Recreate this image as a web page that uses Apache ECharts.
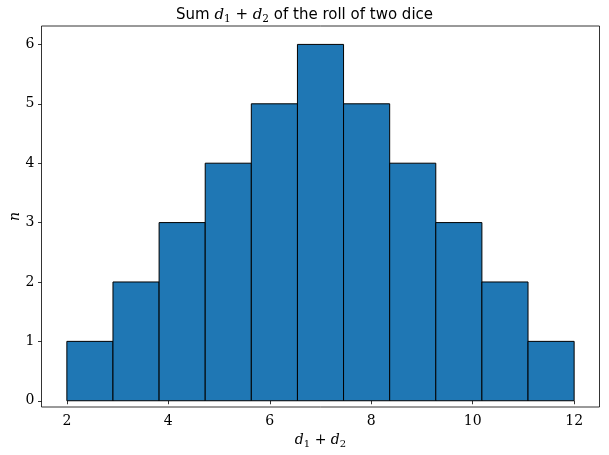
<!DOCTYPE html>
<html>
<head>
<meta charset="utf-8">
<script src="https://cdn.jsdelivr.net/npm/echarts@6/dist/echarts.min.js"></script>
<style>html,body{margin:0;padding:0;background:#fff}#c{width:609px;height:455px}</style>
</head>
<body>
<div id="c"></div>
<script>
// Data
const binLow = 2;
const binHigh = 12;
const counts = [1, 2, 3, 4, 5, 6, 5, 4, 3, 2, 1];
const xTicks = [2, 4, 6, 8, 10, 12];
const yTicks = [0, 1, 2, 3, 4, 5, 6];

const nBins = counts.length;
const binW = (binHigh - binLow) / nBins;
const bars = counts.map((c, i) => [binLow + i * binW, binLow + (i + 1) * binW, c]);

const chart = echarts.init(document.getElementById('c'), null, {renderer: 'canvas'});
const serif = 'DejaVu Serif';
chart.setOption({
  animation: false,
  backgroundColor: '#fff',
  title: {
    text: '{s|Sum }{m|d}{sub|1}{s| + }{m|d}{sub|2}{s| of the roll of two dice}',
    left: 'center',
    top: 1,
    textStyle: {
      fontWeight: 'normal',
      rich: {
        s: {fontFamily: 'DejaVu Sans', fontWeight: 'normal', fontSize: 15, color: '#000'},
        m: {fontFamily: serif, fontStyle: 'italic', fontWeight: 'normal', fontSize: 15, color: '#000'},
        sub: {fontFamily: serif, fontWeight: 'normal', fontSize: 10.5, color: '#000', verticalAlign: 'bottom', padding: [8, 0, 0, 0]}
      }
    }
  },
  grid: {
    left: 41.5, right: 9.5, top: 26, bottom: 48,
    containLabel: false, outerBoundsMode: 'none',
    show: true, borderColor: '#000', borderWidth: 0.8, backgroundColor: 'transparent'
  },
  xAxis: {
    type: 'value', min: 1.5, max: 12.5,
    name: '{m|d}{sub|1}{s| + }{m|d}{sub|2}',
    nameLocation: 'middle', nameGap: 25, nameMoveOverlap: false,
    nameTextStyle: {
      rich: {
        s: {fontFamily: serif, fontSize: 14, color: '#000'},
        m: {fontFamily: serif, fontStyle: 'italic', fontSize: 14, color: '#000'},
        sub: {fontFamily: serif, fontSize: 10, color: '#000', verticalAlign: 'bottom', padding: [7, 0, 0, 0]}
      }
    },
    splitLine: {show: false},
    axisLine: {show: false},
    axisTick: {show: true, length: 3.5, inside: false, customValues: xTicks, lineStyle: {color: '#000', width: 0.8}},
    axisLabel: {customValues: xTicks, fontFamily: serif, fontSize: 14, color: '#000', margin: 7}
  },
  yAxis: {
    type: 'value', min: -0.105, max: 6.31,
    name: 'n', nameLocation: 'middle', nameGap: 26, nameRotate: 90, nameMoveOverlap: false,
    nameTextStyle: {fontFamily: serif, fontStyle: 'italic', fontSize: 14, color: '#000', verticalAlign: 'middle'},
    splitLine: {show: false},
    axisLine: {show: false},
    axisTick: {show: true, length: 3.5, inside: false, customValues: yTicks, lineStyle: {color: '#000', width: 0.8}},
    axisLabel: {customValues: yTicks, fontFamily: serif, fontSize: 14, color: '#000', margin: 7}
  },
  series: [{
    type: 'custom',
    data: bars,
    encode: {x: [0, 1], y: 2},
    renderItem: function (params, api) {
      const p0 = api.coord([api.value(0), 0]);
      const p1 = api.coord([api.value(1), api.value(2)]);
      return {
        type: 'rect',
        shape: {x: p0[0], y: p1[1], width: p1[0] - p0[0], height: p0[1] - p1[1]},
        style: {fill: '#1f77b4', stroke: '#000', lineWidth: 1}
      };
    }
  }]
});
</script>
</body>
</html>
